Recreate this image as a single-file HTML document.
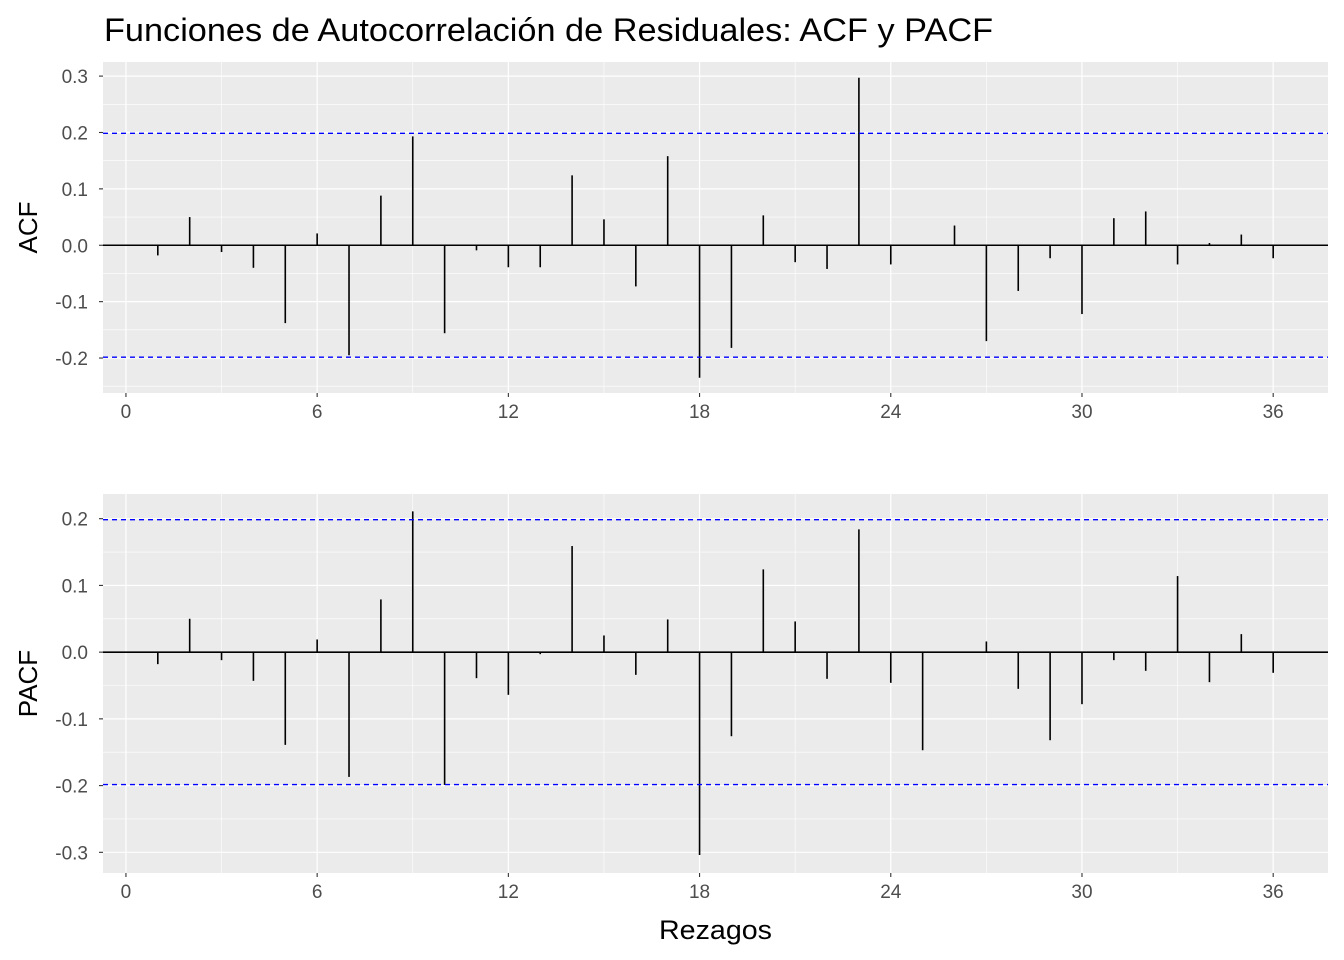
<!DOCTYPE html>
<html><head><meta charset="utf-8"><style>
html,body{margin:0;padding:0;background:#fff;}
svg{display:block;font-family:"Liberation Sans",Arial,sans-serif;}
</style></head><body>
<svg id="chart" width="1344" height="960" viewBox="0 0 1344 960">
<text x="104" y="41" font-size="32" textLength="889" lengthAdjust="spacingAndGlyphs" fill="#000">Funciones de Autocorrelación de Residuales: ACF y PACF</text>
<text x="659" y="939" font-size="27" textLength="113" lengthAdjust="spacingAndGlyphs" fill="#000">Rezagos</text>
</svg>
<script>
const lags = [1,2,3,4,5,6,7,8,9,10,11,12,13,14,15,16,17,18,19,20,21,22,23,24,25,26,27,28,29,30,31,32,33,34,35,36];
const acfValues = [-0.018,0.05,-0.012,-0.04,-0.138,0.021,-0.195,0.088,0.193,-0.156,-0.009,-0.039,-0.039,0.124,0.046,-0.073,0.158,-0.235,-0.182,0.053,-0.03,-0.042,0.297,-0.034,0,0.035,-0.17,-0.081,-0.023,-0.122,0.048,0.06,-0.034,0.004,0.019,-0.023];
const pacfValues = [-0.018,0.05,-0.012,-0.043,-0.139,0.019,-0.187,0.079,0.211,-0.199,-0.039,-0.064,-0.003,0.159,0.025,-0.034,0.049,-0.304,-0.126,0.124,0.046,-0.04,0.184,-0.046,-0.147,0,0.016,-0.055,-0.132,-0.078,-0.012,-0.028,0.114,-0.045,0.027,-0.031];
const xTicks = [0,6,12,18,24,30,36];
const acfYTicks = [-0.2,-0.1,0.0,0.1,0.2,0.3];
const pacfYTicks = [-0.3,-0.2,-0.1,0.0,0.1,0.2];
const ciBound = 0.1985;

const NS='http://www.w3.org/2000/svg';
const svg=document.getElementById('chart');
function mk(tag,attrs,parent){const e=document.createElementNS(NS,tag);for(const k in attrs)e.setAttribute(k,attrs[k]);(parent||svg).appendChild(e);return e;}

function panel(name,top,bottom,yMin,yMax,yTicks,values,yTitle){
  const L=103,R=1328;
  const xMin=-0.72,xMax=37.72;
  const xs=v=>L+(v-xMin)/(xMax-xMin)*(R-L);
  const ys=v=>bottom-(v-yMin)/(yMax-yMin)*(bottom-top);
  const g=mk('g',{});
  
  
  const bg=mk('rect',{x:L,y:top,width:R-L,height:bottom-top,fill:'#ebebeb'},g);
  
  
  for(let i=0;i<yTicks.length-1;i++){const m=(yTicks[i]+yTicks[i+1])/2;mk('line',{x1:L,x2:R,y1:ys(m),y2:ys(m),stroke:'#fff','stroke-width':0.6},g);}
  const step=yTicks[1]-yTicks[0];
  [yTicks[0]-step/2,yTicks[yTicks.length-1]+step/2].forEach(m=>{if(m>yMin&&m<yMax)mk('line',{x1:L,x2:R,y1:ys(m),y2:ys(m),stroke:'#fff','stroke-width':0.6},g);});
  for(let i=0;i<xTicks.length-1;i++){const m=(xTicks[i]+xTicks[i+1])/2;mk('line',{x1:xs(m),x2:xs(m),y1:top,y2:bottom,stroke:'#fff','stroke-width':0.6},g);}
  yTicks.forEach(t=>{
    mk('line',{x1:L,x2:R,y1:ys(t),y2:ys(t),stroke:'#fff','stroke-width':1.2},g);
    mk('line',{x1:L-4,x2:L,y1:ys(t),y2:ys(t),stroke:'#333','stroke-width':1.1},g);
    const tx=mk('text',{x:L-15,y:ys(t)+7,'font-size':19,'text-anchor':'end',fill:'#4d4d4d'},g);
    tx.textContent=t.toFixed(1);
    
    
  });
  xTicks.forEach(t=>{
    mk('line',{x1:xs(t),x2:xs(t),y1:top,y2:bottom,stroke:'#fff','stroke-width':1.2},g);
    mk('line',{x1:xs(t),x2:xs(t),y1:bottom,y2:bottom+4,stroke:'#333','stroke-width':1.1},g);
    const tx=mk('text',{x:xs(t),y:bottom+25,'font-size':19,'text-anchor':'middle',fill:'#4d4d4d'},g);
    tx.textContent=t;
    
    
  });
  const z=mk('line',{x1:L,x2:R,y1:ys(0),y2:ys(0),stroke:'#000','stroke-width':1.6},g);
  
  
  values.forEach((v,i)=>{
    const b=mk('line',{x1:xs(lags[i]),x2:xs(lags[i]),y1:ys(0),y2:ys(v),stroke:'#000','stroke-width':1.6},g);
    
    
  });
  [ciBound,-ciBound].forEach(c=>{
    const d=mk('line',{x1:L,x2:R,y1:ys(c),y2:ys(c),stroke:'#0000ff','stroke-width':1.4,'stroke-dasharray':'5,4'},g);
    
    
  });
  const cy=(top+bottom)/2;
  const yt=mk('text',{x:37,y:cy,'font-size':26,'text-anchor':'middle',fill:'#000',transform:'rotate(-90 37 '+cy+')'},g);
  yt.textContent=yTitle;
  
  
}
panel('acf',62,393,-0.262,0.325,acfYTicks,acfValues,'ACF');
panel('pacf',494,873,-0.331,0.237,pacfYTicks,pacfValues,'PACF');
</script>
</body></html>
